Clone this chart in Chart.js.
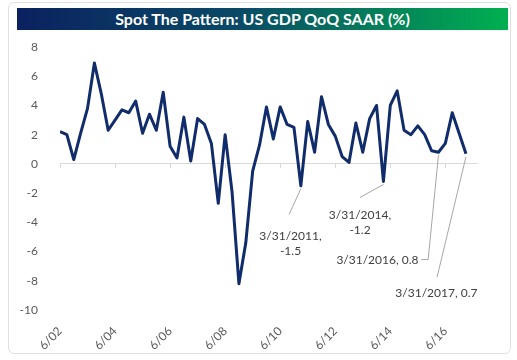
<!DOCTYPE html>
<html>
<head>
<meta charset="utf-8">
<script src="https://cdn.jsdelivr.net/npm/chart.js@4.4.1/dist/chart.umd.min.js"></script>
<style>
  body { margin: 0; background: #fff; }
  #wrap { position: relative; width: 517px; height: 360px; overflow: hidden; }
  #frame {
    position: absolute; left: 8px; top: 2px; width: 503px; height: 352px;
    border: 1px solid #e0e0e0; border-radius: 6px; box-sizing: border-box;
  }
  #banner {
    position: absolute; left: 17px; top: 8px; width: 491px; height: 22px;
    background: linear-gradient(to right, #0b2160 0%, #0a4a66 45%, #00b050 100%);
    color: #fff; font: bold 16px Lato, "Open Sans", sans-serif;
    text-align: center; line-height: 22px;
  }
  #chartBox { position: absolute; left: 0; top: 0; width: 517px; height: 360px; }
</style>
</head>
<body>
<div id="wrap">
  <div id="frame"></div>
  <div id="banner">Spot The Pattern: US GDP QoQ SAAR (%)</div>
  <div id="chartBox"><canvas id="gdpChart" width="517" height="360"></canvas></div>
</div>
<script>
// US real GDP, quarter over quarter, seasonally adjusted annual rate (%)
// first value = Q2 2002 (6/02), last value = Q1 2017
const gdpQoq = [
  2.2, 2.0, 0.3,           // 2002
  2.1, 3.8, 6.9, 4.8,      // 2003
  2.3, 3.0, 3.7, 3.5,      // 2004
  4.3, 2.1, 3.4, 2.3,      // 2005
  4.9, 1.2, 0.4, 3.2,      // 2006
  0.2, 3.1, 2.7, 1.4,      // 2007
  -2.7, 2.0, -1.9, -8.2,   // 2008
  -5.4, -0.5, 1.3, 3.9,    // 2009
  1.7, 3.9, 2.7, 2.5,      // 2010
  -1.5, 2.9, 0.8, 4.6,     // 2011
  2.7, 1.9, 0.5, 0.1,      // 2012
  2.8, 0.8, 3.1, 4.0,      // 2013
  -1.2, 4.0, 5.0, 2.3,     // 2014
  2.0, 2.6, 2.0, 0.9,      // 2015
  0.8, 1.4, 3.5, 2.1,      // 2016
  0.7                      // 2017
];

// one tick every 8 quarters, starting at the first quarter
const xTickLabels = ['6/02', '6/04', '6/06', '6/08', '6/10', '6/12', '6/14', '6/16'];
const tickEvery = 8;
const xMax = 60.6;

const yMin = -10, yMax = 8, yStep = 2;

// callouts: which quarter, its text, where the text sits (in quarter / value units)
const callouts = [
  { idx: 35, text: ['3/31/2011,', '-1.5'], tx: 33.5, ty: -4.95, align: 'center', leader: [[33.3, -3.45]] },
  { idx: 47, text: ['3/31/2014,', '-1.2'], tx: 43.6, ty: -3.5, align: 'center', leader: [[43.6, -2.3]] },
  { idx: 55, text: ['3/31/2016, 0.8'], tx: 52.1, ty: -6.6, align: 'right', leader: [[53.5, -6.55], [52.5, -6.55]] },
  { idx: 59, text: ['3/31/2017, 0.7'], tx: 54.7, ty: -8.85, align: 'center', leader: [[54.8, -7.75]] }
];

const calloutPlugin = {
  id: 'callouts',
  afterDatasetsDraw(chart) {
    const ctx = chart.ctx;
    const xs = chart.scales.x, ys = chart.scales.y;
    ctx.save();
    ctx.strokeStyle = '#a6a6a6';
    ctx.lineWidth = 1;
    ctx.font = '12px Lato, "Open Sans", sans-serif';
    ctx.fillStyle = '#404040';
    ctx.textBaseline = 'middle';
    callouts.forEach(c => {
      const px = xs.getPixelForValue(c.idx);
      const py = ys.getPixelForValue(gdpQoq[c.idx]);
      ctx.beginPath();
      ctx.moveTo(px, py + 3);
      c.leader.forEach(p => ctx.lineTo(xs.getPixelForValue(p[0]), ys.getPixelForValue(p[1])));
      ctx.stroke();
      ctx.textAlign = c.align;
      const tx = xs.getPixelForValue(c.tx);
      const ty = ys.getPixelForValue(c.ty);
      c.text.forEach((t, i) => ctx.fillText(t, tx, ty + i * 15));
    });
    ctx.restore();
  }
};

const ctx = document.getElementById('gdpChart').getContext('2d');
new Chart(ctx, {
  type: 'line',
  data: {
    datasets: [{
      label: 'US GDP QoQ SAAR',
      data: gdpQoq.map((v, i) => ({ x: i, y: v })),
      borderColor: '#102c6a',
      borderWidth: 3,
      pointRadius: 0,
      tension: 0,
      borderJoinStyle: 'round',
      fill: false
    }]
  },
  options: {
    responsive: false,
    animation: false,
    layout: { padding: { top: 47, right: 40, left: 0, bottom: 0 } },
    plugins: { legend: { display: false }, tooltip: { enabled: false } },
    scales: {
      x: {
        type: 'linear',
        min: 0, max: xMax,
        afterFit(scale) { scale.height = 50; },
        grid: { display: false },
        border: { display: false },
        ticks: {
          stepSize: tickEvery,
          includeBounds: false,
          autoSkip: false,
          maxRotation: 45, minRotation: 45,
          padding: 6,
          color: '#595959',
          font: { family: 'Lato, "Open Sans", sans-serif', size: 12 },
          callback: v => xTickLabels[v / tickEvery] || ''
        }
      },
      xz: {
        type: 'linear',
        position: { y: 0 },
        min: 0, max: xMax,
        grid: { drawOnChartArea: false, drawTicks: true, tickLength: 4, color: '#d9d9d9' },
        border: { display: true, color: '#d9d9d9', width: 1 },
        ticks: { stepSize: tickEvery, includeBounds: false, display: false }
      },
      y: {
        min: yMin, max: yMax,
        afterFit(scale) { scale.width = 60; },
        grid: { display: false },
        border: { display: false },
        ticks: {
          stepSize: yStep,
          padding: 14,
          color: '#595959',
          font: { family: 'Lato, "Open Sans", sans-serif', size: 12 }
        }
      }
    }
  },
  plugins: [calloutPlugin]
});
</script>
</body>
</html>
